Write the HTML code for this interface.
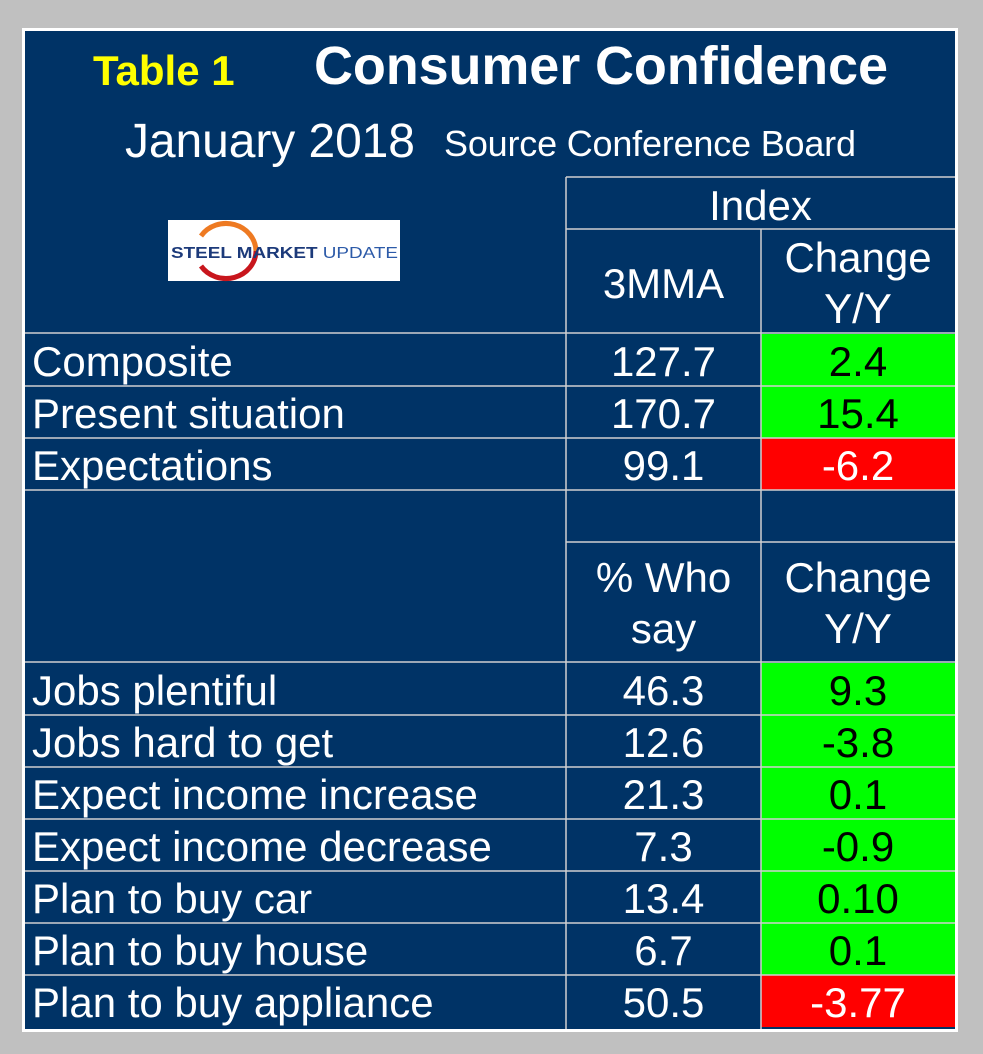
<!DOCTYPE html>
<html><head><meta charset="utf-8"><style>
html,body{margin:0;padding:0;background:#c0c0c0;}
svg{display:block;font-family:"Liberation Sans",Arial,sans-serif;}
</style></head><body>
<svg id="chart" width="983" height="1054" viewBox="0 0 983 1054">
<rect x="0" y="0" width="983" height="1054" fill="#c0c0c0"/>
<rect x="22" y="28" width="936" height="1004" fill="#ffffff"/>
<rect x="25" y="31" width="930" height="998" fill="#003366"/>
<text x="93" y="85" font-size="42" font-weight="bold" fill="#ffff00">Table 1</text>
<text x="314" y="84" font-size="54" font-weight="bold" fill="#ffffff" textLength="574">Consumer Confidence</text>
<text x="125" y="157" font-size="48" fill="#ffffff" textLength="290">January 2018</text>
<text x="444" y="156" font-size="36" fill="#ffffff" textLength="412">Source Conference Board</text>
<g>
<rect x="168" y="220" width="232" height="61" fill="#ffffff"/>
<path d="M201 236 A30 28 0 0 1 256 251" fill="none" stroke="#ee7a22" stroke-width="5"/>
<path d="M256 251 A30 28 0 0 1 201 266" fill="none" stroke="#c8161d" stroke-width="5"/>
<text x="171" y="258" font-size="16" font-weight="bold" fill="#1c3a7a" textLength="227" lengthAdjust="spacingAndGlyphs">STEEL MARKET <tspan font-weight="normal" fill="#2c5aa8">UPDATE</tspan></text>
</g>
<g id="cells"></g>
<g id="grid" stroke="#d0d0d0" stroke-width="1.5"></g>
<g id="texts" fill="#ffffff" font-size="42"></g>
</svg>
<script>
const labelsTop = ["Composite","Present situation","Expectations"];
const valuesTop = ["127.7","170.7","99.1"];
const changesTop = ["2.4","15.4","-6.2"];
const upTop = [true,true,false];
const labelsBottom = ["Jobs plentiful","Jobs hard to get","Expect income increase","Expect income decrease","Plan to buy car","Plan to buy house","Plan to buy appliance"];
const valuesBottom = ["46.3","12.6","21.3","7.3","13.4","6.7","50.5"];
const changesBottom = ["9.3","-3.8","0.1","-0.9","0.10","0.1","-3.77"];
const upBottom = [true,true,true,true,true,true,false];

const NS="http://www.w3.org/2000/svg";
const grid=document.getElementById('grid'), cells=document.getElementById('cells'), texts=document.getElementById('texts');
const L=25,C1=566,C2=761,R=955,RH=52;
function line(x1,y1,x2,y2){const l=document.createElementNS(NS,'line');l.setAttribute('x1',x1);l.setAttribute('y1',y1);l.setAttribute('x2',x2);l.setAttribute('y2',y2);


grid.appendChild(l);}
function txt(x,y,s,anchor,fill,name){const t=document.createElementNS(NS,'text');t.setAttribute('x',x);t.setAttribute('y',y);t.textContent=s;if(anchor)t.setAttribute('text-anchor',anchor);if(fill)t.setAttribute('fill',fill);


texts.appendChild(t);}
function cell(y,up,name){const r=document.createElementNS(NS,'rect');r.setAttribute('x',C2);r.setAttribute('y',y);r.setAttribute('width',R-C2);r.setAttribute('height',RH);r.setAttribute('fill',up?'#00ff00':'#ff0000');


cells.appendChild(r);}
function rows(labels,vals,chg,up,y0,last){
  labels.forEach((lab,i)=>{const y=y0+i*RH;
    cell(y,up[i],'change-cell-'+i);
    txt(32,y+42,lab,null,null,'row-label');
    txt((C1+C2)/2,y+42,vals[i],'middle',null,'row-value');
    txt((C2+R)/2,y+42,chg[i],'middle',up[i]?'#000000':'#ffffff','row-change');
    if(!(last && i===labels.length-1)) line(L,y+RH,R,y+RH);
  });
}
rows(labelsTop,valuesTop,changesTop,upTop,334,false);
rows(labelsBottom,valuesBottom,changesBottom,upBottom,663,true);
line(C1,177,R,177); line(C1,229,R,229); line(L,333,R,333);
line(C1,542,R,542); line(L,662,R,662);
line(C1,177,C1,1029); line(C2,229,C2,1029);
txt((C1+R)/2,220,"Index",'middle',null,'header-index');
txt((C1+C2)/2,298,"3MMA",'middle',null,'header-3mma');
txt((C2+R)/2,272,"Change",'middle',null,'header-change');
txt((C2+R)/2,323,"Y/Y",'middle',null,'header-yy');
txt((C1+C2)/2,592,"% Who",'middle',null,'header-pct-who');
txt((C1+C2)/2,643,"say",'middle',null,'header-say');
txt((C2+R)/2,592,"Change",'middle',null,'header-change-2');
txt((C2+R)/2,643,"Y/Y",'middle',null,'header-yy-2');
</script>
</body></html>
